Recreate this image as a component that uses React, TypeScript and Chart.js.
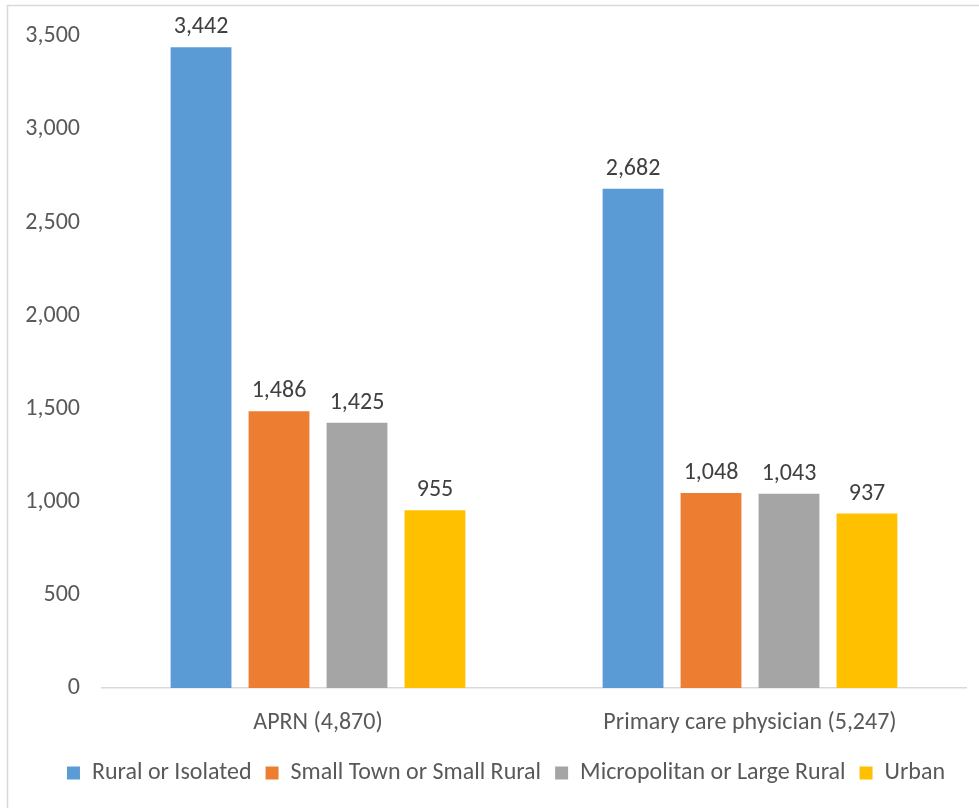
import React, { useEffect, useRef } from "react";
import { Chart, registerables } from "chart.js";

Chart.register(...registerables);

const categories = ["APRN (4,870)", "Primary care physician (5,247)"];
const seriesNames = [
  "Rural or Isolated",
  "Small Town or Small Rural",
  "Micropolitan or Large Rural",
  "Urban",
];
const ruralIsolated = [3442, 2682];
const smallTownRural = [1486, 1048];
const micropolitanLargeRural = [1425, 1043];
const urban = [955, 937];
const yTickValues = [0, 500, 1000, 1500, 2000, 2500, 3000, 3500];
const seriesColors = ["#5B9BD5", "#ED7D31", "#A5A5A5", "#FFC000"];

const FONT = "Carlito, Calibri, Lato, 'Open Sans', sans-serif";
const FS = 24;
const fmt = (v: number) => v.toLocaleString("en-US");

const dataLabelPlugin = {
  id: "dataLabels",
  afterDatasetsDraw(chart: any) {
    const ctx = chart.ctx;
    ctx.save();
    ctx.font = `${FS}px ${FONT}`;
    ctx.fillStyle = "#404040";
    ctx.textAlign = "center";
    ctx.textBaseline = "middle";
    chart.data.datasets.forEach((ds: any, i: number) => {
      const meta = chart.getDatasetMeta(i);
      meta.data.forEach((bar: any, j: number) => {
        ctx.fillText(fmt(ds.data[j]), bar.x, bar.y - 20);
      });
    });
    ctx.restore();
  },
};

const framePlugin = {
  id: "frame",
  beforeDraw(chart: any) {
    const ctx = chart.ctx;
    ctx.save();
    ctx.fillStyle = "#ffffff";
    ctx.fillRect(0, 0, chart.width, chart.height);
    ctx.strokeStyle = "#D9D9D9";
    ctx.lineWidth = 1.5;
    ctx.beginPath();
    ctx.moveTo(7.5, chart.height + 5);
    ctx.lineTo(7.5, 5.5);
    ctx.lineTo(chart.width, 5.5);
    ctx.stroke();
    ctx.restore();
  },
};

// nudge the legend block so it is centred like the reference
const legendShiftPlugin = {
  id: "legendShift",
  afterLayout(chart: any) {
    const lg = chart.legend;
    if (lg) {
      lg.left += 23;
      lg.right += 23;
    }
  },
};

export default function App() {
  const canvasRef = useRef<HTMLCanvasElement | null>(null);

  useEffect(() => {
    const seriesData = [ruralIsolated, smallTownRural, micropolitanLargeRural, urban];
    const chart = new Chart(canvasRef.current as HTMLCanvasElement, {
      type: "bar",
      data: {
        labels: categories,
        datasets: seriesNames.map((name, i) => ({
          label: name,
          data: seriesData[i],
          backgroundColor: seriesColors[i],
          borderWidth: 0,
          categoryPercentage: 0.722,
          barPercentage: 0.78,
        })),
      },
      options: {
        animation: false,
        responsive: false,
        devicePixelRatio: 1,
        layout: { padding: { left: 0, right: 13, top: 29.6, bottom: 13 } },
        plugins: {
          legend: {
            position: "bottom",
            labels: {
              boxWidth: 13,
              boxHeight: 13,
              padding: 14,
              color: "#595959",
              font: { family: FONT, size: FS },
            },
          },
          tooltip: { enabled: false },
        },
        scales: {
          x: {
            grid: { display: false },
            border: { display: true, color: "#D9D9D9", width: 1.5 },
            ticks: {
              color: "#595959",
              font: { family: FONT, size: FS },
              padding: 13,
            },
            afterFit: (scale: any) => {
              scale.height = 59;
            },
          },
          y: {
            min: 0,
            max: 3500,
            afterBuildTicks: (scale: any) => {
              scale.ticks = yTickValues.map((v) => ({ value: v }));
            },
            grid: { display: false, drawTicks: false },
            border: { display: false },
            ticks: {
              color: "#595959",
              font: { family: FONT, size: FS },
              padding: 22,
              callback: (v: any) => fmt(Number(v)),
            },
            afterFit: (scale: any) => {
              scale.width = 102;
            },
          },
        },
      },
      plugins: [framePlugin, dataLabelPlugin, legendShiftPlugin],
    });
    return () => chart.destroy();
  }, []);

  return (
    <div style={{ position: "fixed", left: 0, top: 0, width: 979, height: 808, background: "#fff" }}>
      <canvas ref={canvasRef} width={979} height={808} style={{ width: 979, height: 808, display: "block" }} />
    </div>
  );
}
